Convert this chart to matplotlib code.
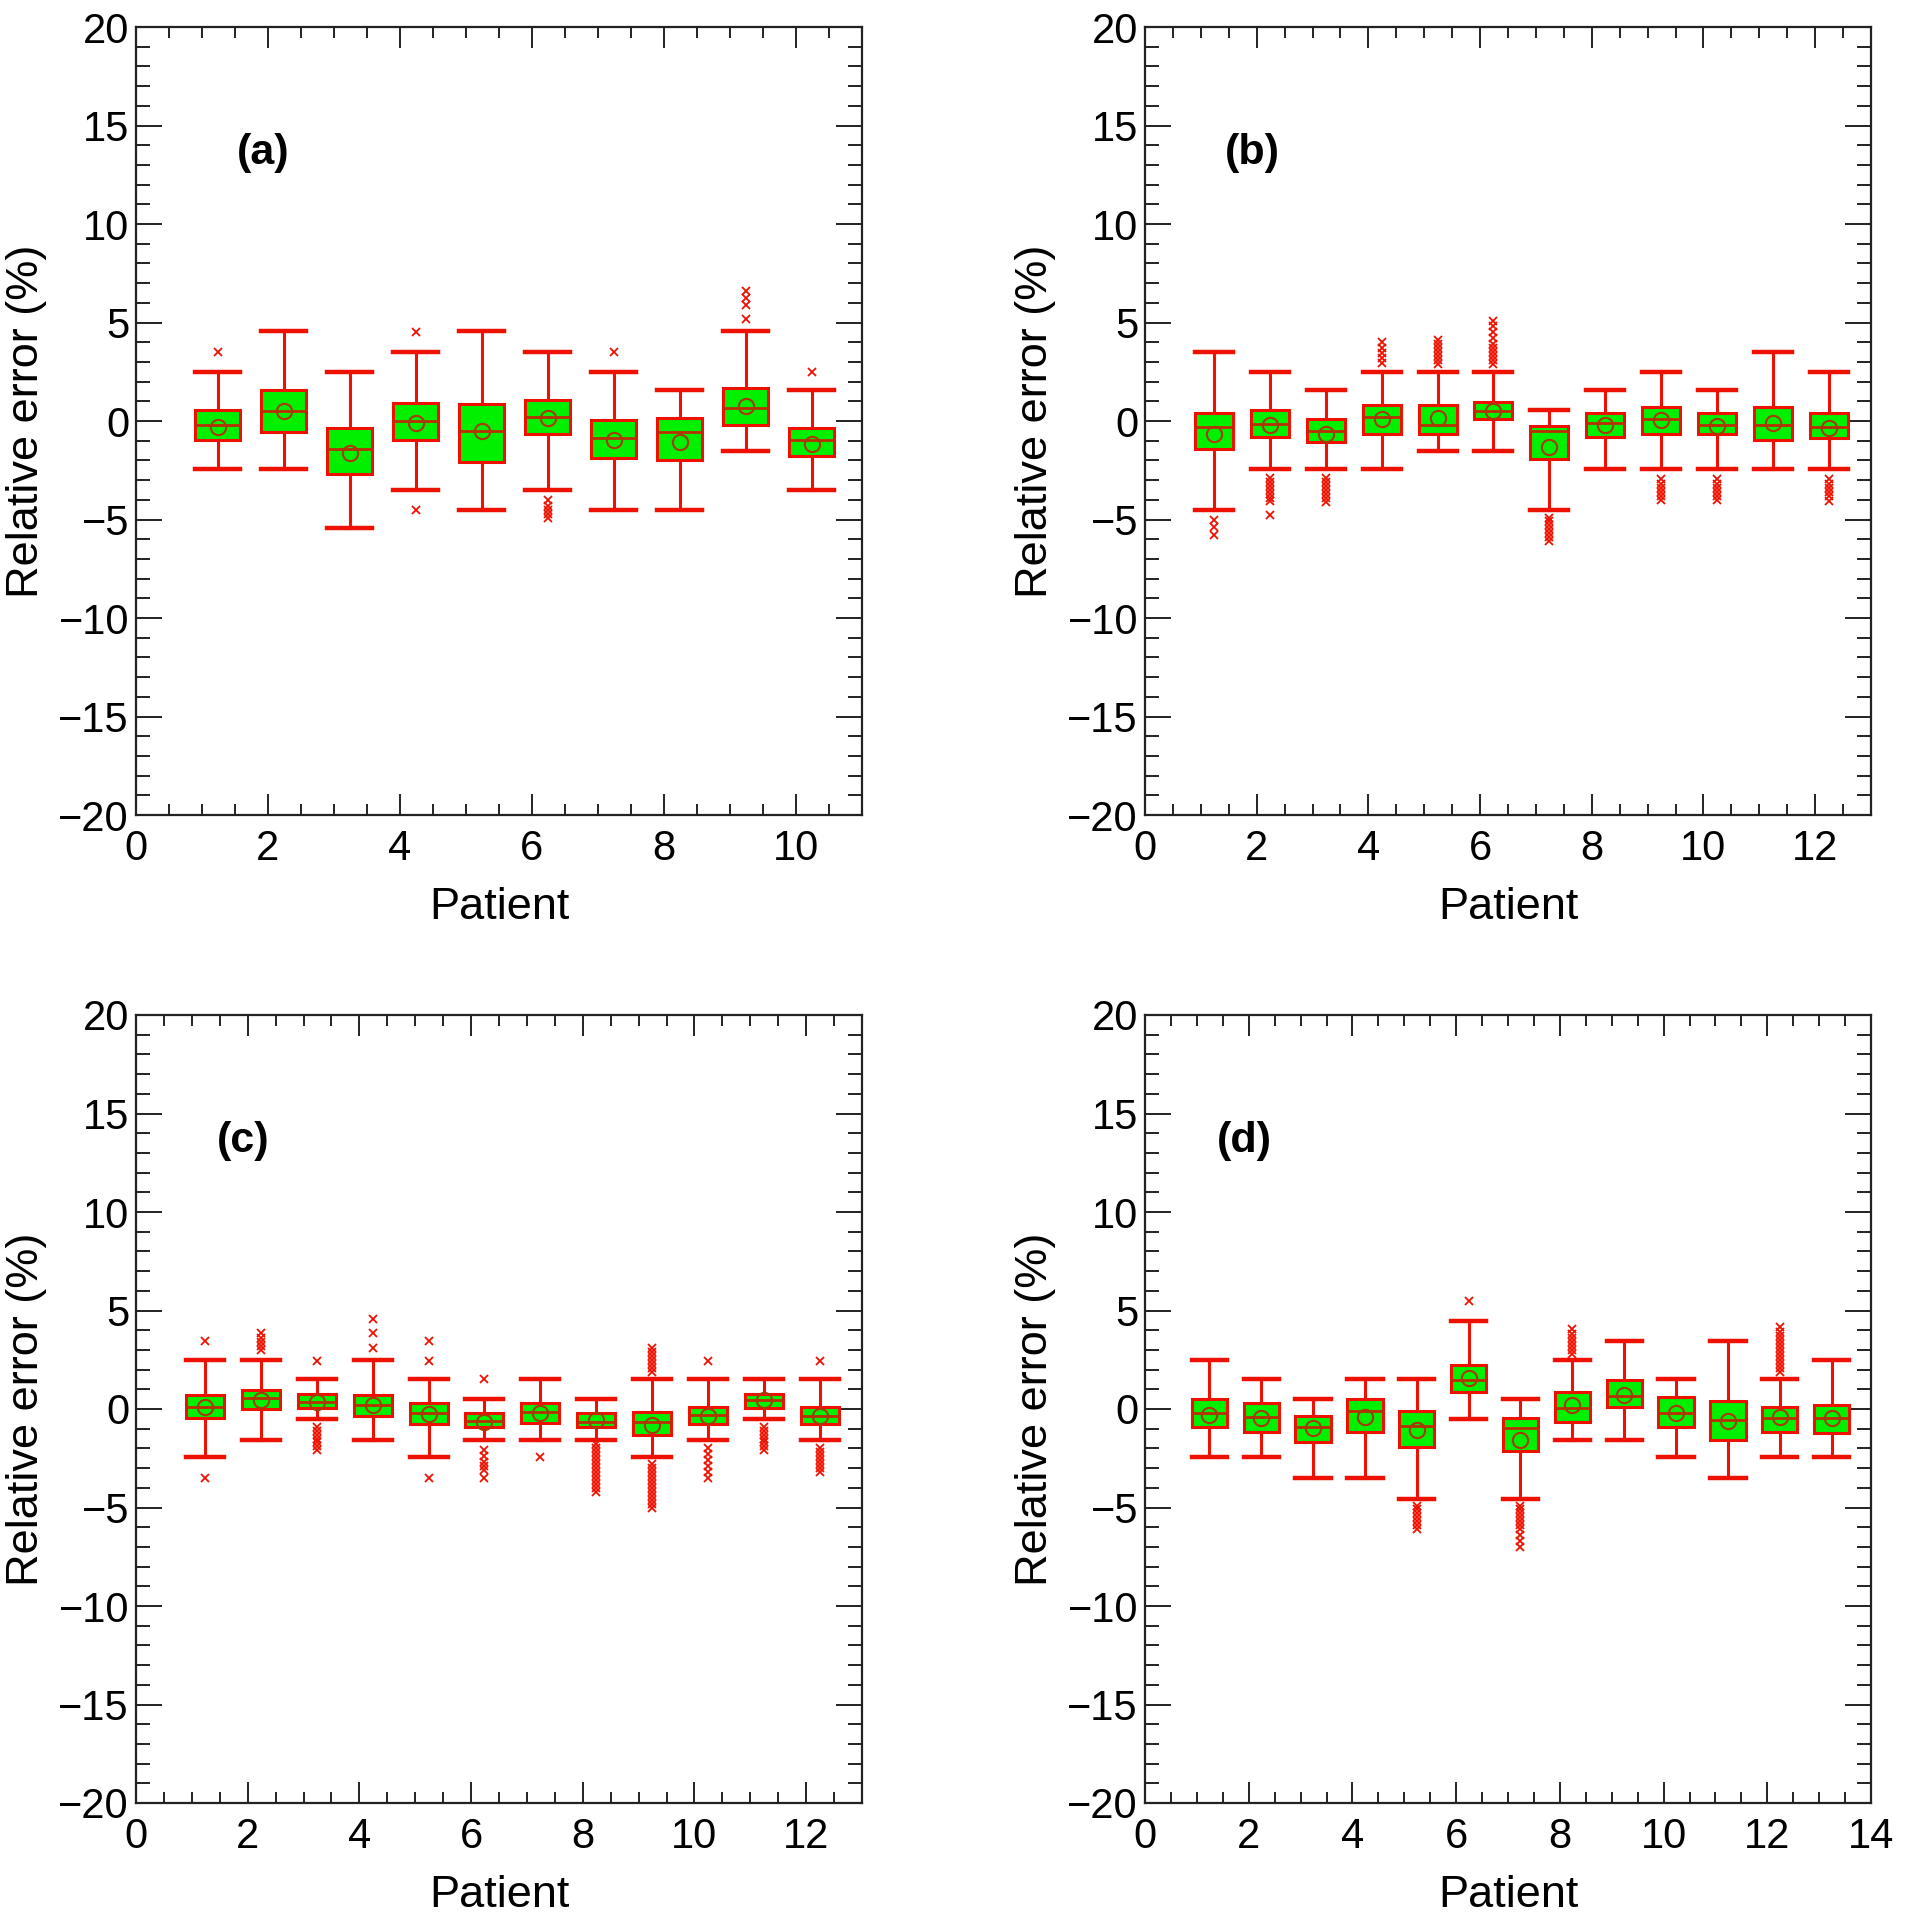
import matplotlib
matplotlib.use('Agg')
import matplotlib.pyplot as plt
from matplotlib.ticker import MultipleLocator

plt.rcParams['font.family'] = ['Liberation Sans', 'DejaVu Sans']

# ---------------- Panel (a): 10 patients ----------------
a_whishi = [2.5, 4.55, 2.5, 3.5, 4.55, 3.5, 2.5, 1.55, 4.55, 1.55]
a_q3 = [0.54, 1.59, -0.37, 0.93, 0.84, 1.06, 0.03, 0.17, 1.69, -0.34]
a_med = [-0.2, 0.5, -1.42, 0.0, -0.5, 0.2, -0.85, -0.56, 0.68, -0.98]
a_q1 = [-0.98, -0.54, -2.7, -0.98, -2.08, -0.68, -1.86, -1.98, -0.22, -1.77]
a_whislo = [-2.45, -2.45, -5.45, -3.5, -4.5, -3.5, -4.5, -4.5, -1.52, -3.5]
a_mean = [-0.29, 0.5, -1.6, -0.08, -0.5, 0.14, -0.98, -1.06, 0.74, -1.15]
a_fliers = [[3.5], [], [], [4.5, -4.5], [], [-4.0, -4.3, -4.5, -4.7, -4.9],
            [3.5], [], [5.2, 5.9, 6.25, 6.6], [2.5]]

# ---------------- Panel (b): 12 patients ----------------
b_whishi = [3.5, 2.5, 1.55, 2.5, 2.5, 2.5, 0.54, 1.55, 2.5, 1.55, 3.5, 2.5]
b_q3 = [0.42, 0.54, 0.12, 0.81, 0.81, 0.98, -0.25, 0.42, 0.71, 0.42, 0.71, 0.39]
b_med = [-0.3, -0.14, -0.5, 0.2, -0.2, 0.5, -0.5, -0.12, 0.08, -0.2, -0.2, -0.29]
b_q1 = [-1.44, -0.8, -1.06, -0.68, -0.68, 0.12, -1.94, -0.8, -0.68, -0.68, -0.96, -0.84]
b_whislo = [-4.5, -2.45, -2.45, -2.45, -1.52, -1.52, -4.5, -2.45, -2.45, -2.45, -2.45, -2.45]
b_mean = [-0.64, -0.2, -0.64, 0.08, 0.17, 0.5, -1.32, -0.2, 0.03, -0.25, -0.08, -0.34]
b_fliers = [[-5.0, -5.4, -5.8],
            [-2.9, -3.1, -3.3, -3.5, -3.7, -3.9, -4.05, -4.75],
            [-2.9, -3.1, -3.3, -3.5, -3.7, -3.9, -4.1],
            [2.95, 3.2, 3.45, 3.7, 4.0],
            [2.9, 3.1, 3.3, 3.5, 3.7, 3.9, 4.1],
            [2.9, 3.1, 3.3, 3.5, 3.7, 3.9, 4.2, 4.5, 4.8, 5.1],
            [-4.9, -5.1, -5.3, -5.5, -5.7, -5.9, -6.1],
            [],
            [-2.95, -3.2, -3.4, -3.6, -3.8, -4.0],
            [-2.95, -3.2, -3.4, -3.6, -3.8, -4.0],
            [],
            [-2.95, -3.2, -3.4, -3.6, -3.8, -4.05]]

# ---------------- Panel (c): 12 patients ----------------
c_whishi = [2.5, 2.5, 1.52, 2.5, 1.52, 0.49, 1.52, 0.49, 1.52, 1.52, 1.52, 1.52]
c_q3 = [0.71, 0.96, 0.74, 0.71, 0.29, -0.22, 0.29, -0.22, -0.13, 0.08, 0.76, 0.08]
c_med = [0.12, 0.54, 0.37, 0.2, -0.22, -0.6, -0.13, -0.64, -0.64, -0.3, 0.45, -0.34]
c_q1 = [-0.44, 0.0, 0.03, -0.35, -0.76, -0.89, -0.69, -0.89, -1.31, -0.77, 0.03, -0.76]
c_whislo = [-2.45, -1.57, -0.52, -1.57, -2.45, -1.57, -1.57, -1.57, -2.45, -1.57, -0.52, -1.57]
c_mean = [0.12, 0.45, 0.34, 0.2, -0.27, -0.64, -0.19, -0.55, -0.81, -0.34, 0.45, -0.34]
c_fliers = [[3.45, -3.5],
            [3.0, 3.2, 3.4, 3.6, 3.85],
            [2.42, -0.9, -1.1, -1.3, -1.5, -1.7, -1.9, -2.1],
            [4.58, 3.87, 3.1],
            [3.45, 2.42, -3.5],
            [1.52, -2.1, -2.4, -2.7, -2.9, -3.1, -3.5],
            [-2.45],
            [-1.8, -2.0, -2.2, -2.4, -2.6, -2.8, -3.0, -3.2, -3.4, -3.6, -3.8, -4.0, -4.2],
            [1.9, 2.1, 2.3, 2.5, 2.7, 2.9, 3.1,
             -2.8, -3.0, -3.2, -3.4, -3.6, -3.8, -4.0, -4.2, -4.4, -4.6, -4.8, -5.0],
            [2.42, -2.0, -2.3, -2.6, -2.9, -3.2, -3.5],
            [-0.9, -1.1, -1.3, -1.5, -1.7, -1.9, -2.1],
            [2.42, -2.0, -2.2, -2.4, -2.6, -2.8, -3.0, -3.2]]

# ---------------- Panel (d): 13 patients ----------------
d_whishi = [2.5, 1.52, 0.49, 1.52, 1.52, 4.49, 0.49, 2.5, 3.45, 1.52, 3.45, 1.52, 2.5]
d_q3 = [0.5, 0.32, -0.34, 0.5, -0.1, 2.22, -0.47, 0.88, 1.46, 0.59, 0.4, 0.12, 0.2]
d_med = [-0.22, -0.39, -0.89, -0.1, -0.84, 1.46, -0.98, 0.07, 0.67, -0.22, -0.56, -0.47, -0.47]
d_q1 = [-0.89, -1.18, -1.68, -1.18, -1.94, 0.84, -2.15, -0.67, 0.12, -0.89, -1.57, -1.18, -1.23]
d_whislo = [-2.45, -2.45, -3.5, -3.5, -4.55, -0.5, -4.55, -1.57, -1.57, -2.45, -3.5, -2.45, -2.45]
d_mean = [-0.3, -0.47, -0.98, -0.39, -1.06, 1.58, -1.57, 0.2, 0.71, -0.22, -0.6, -0.39, -0.47]
d_fliers = [[], [], [], [],
            [-4.9, -5.1, -5.3, -5.5, -5.7, -5.9, -6.1],
            [5.5],
            [-4.9, -5.1, -5.3, -5.5, -5.7, -5.9, -6.1, -6.4, -6.7, -7.0],
            [2.8, 3.0, 3.2, 3.4, 3.6, 3.8, 4.05],
            [], [], [],
            [1.9, 2.1, 2.3, 2.5, 2.7, 2.9, 3.1, 3.3, 3.5, 3.7, 3.9, 4.15],
            []]

panel_labels = ['(a)', '(b)', '(c)', '(d)']
x_limits = [11, 13, 13, 14]
y_ticks = [-20, -15, -10, -5, 0, 5, 10, 15, 20]

panels = [
    (a_whislo, a_q1, a_med, a_q3, a_whishi, a_mean, a_fliers),
    (b_whislo, b_q1, b_med, b_q3, b_whishi, b_mean, b_fliers),
    (c_whislo, c_q1, c_med, c_q3, c_whishi, c_mean, c_fliers),
    (d_whislo, d_q1, d_med, d_q3, d_whishi, d_mean, d_fliers),
]

fig = plt.figure(figsize=(19.05, 19.20), dpi=100)
W, H = 1905.0, 1920.0
lefts = [136, 1145, 136, 1145]
bottoms_px = [815, 815, 1803, 1803]
aw, ah = 726, 788

OFFSET = 0.24
BOXW = 0.68
edge = '#222222'

for k, (wlo, q1, med, q3, whi, mean, fl) in enumerate(panels):
    ax = fig.add_axes([lefts[k] / W, 1 - bottoms_px[k] / H, aw / W, ah / H])
    stats = []
    for i in range(len(med)):
        stats.append(dict(whislo=wlo[i], q1=q1[i], med=med[i], q3=q3[i],
                          whishi=whi[i], mean=mean[i], fliers=fl[i]))
    pos = [i + 1 + OFFSET for i in range(len(med))]
    ax.bxp(stats, positions=pos, widths=BOXW, capwidths=BOXW,
           patch_artist=True, showmeans=True, meanline=False, showfliers=True,
           manage_ticks=False,
           boxprops=dict(facecolor='#00f000', edgecolor='#ee1100', linewidth=2.2),
           whiskerprops=dict(color='#ee1100', linewidth=2.2, linestyle='-'),
           capprops=dict(color='#ee1100', linewidth=3.2),
           medianprops=dict(color='#b83000', linewidth=2.0),
           meanprops=dict(marker='o', markerfacecolor='none',
                          markeredgecolor='#a83a00', markersize=11,
                          markeredgewidth=1.5),
           flierprops=dict(marker='x', markeredgecolor='#ee1100',
                           markerfacecolor='none', markersize=6,
                           markeredgewidth=1.3))

    ax.set_xlim(0, x_limits[k])
    ax.set_ylim(-20, 20)
    ax.set_yticks(y_ticks)
    ax.xaxis.set_major_locator(MultipleLocator(2))
    ax.xaxis.set_minor_locator(MultipleLocator(0.5))
    ax.yaxis.set_minor_locator(MultipleLocator(1))
    ax.tick_params(axis='both', which='both', direction='in',
                   top=True, right=True, colors=edge, width=1.4,
                   labelcolor='black', labelsize=30)
    ax.tick_params(axis='y', which='major', length=18.5, pad=5)
    ax.tick_params(axis='y', which='minor', length=10)
    ax.tick_params(axis='x', which='major', length=15, pad=10)
    ax.tick_params(axis='x', which='minor', length=8)
    for sp in ax.spines.values():
        sp.set_linewidth(1.6)
        sp.set_color(edge)

    ax.text(1.92, 13.6, panel_labels[k], fontsize=31, fontweight='bold',
            ha='center', va='center')
    ax.text(0.5, -104 / ah, 'Patient', transform=ax.transAxes,
            fontsize=32.5, ha='center', va='baseline')
    ax.text(-109 / aw, 0.5, 'Relative error (%)', transform=ax.transAxes,
            fontsize=32.5, rotation=90, ha='center', va='center')

fig.savefig('out.png', dpi=100, facecolor='white')
